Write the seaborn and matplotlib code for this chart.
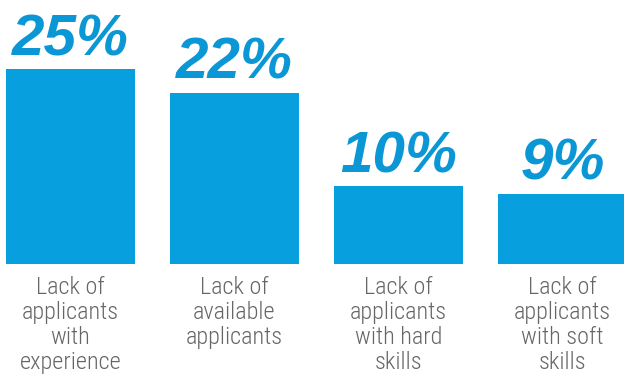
import matplotlib
matplotlib.use("Agg")
import matplotlib.pyplot as plt
from matplotlib import font_manager
import seaborn as sns
import pandas as pd

categories = ["Lack of\napplicants\nwith\nexperience",
              "Lack of\navailable\napplicants",
              "Lack of\napplicants\nwith hard\nskills",
              "Lack of\napplicants\nwith soft\nskills"]
values = [25, 22, 10, 9]
value_labels = ["25%", "22%", "10%", "9%"]

df = pd.DataFrame({"cat": categories, "val": values})

sns.set_style("white")
names = {f.name for f in font_manager.fontManager.ttflist}
narrow = "Roboto"
for cand in ["Roboto Condensed", "Liberation Sans Narrow", "Open Sans Condensed"]:
    if cand in names:
        narrow = cand
        break

fig = plt.figure(figsize=(6.24, 3.79), dpi=100)
ax = fig.add_axes([0, 115 / 379, 1, 264 / 379])
sns.barplot(data=df, x="cat", y="val", color="#089fdf", saturation=1,
            width=0.79, ax=ax)
for p in ax.patches:
    p.set_edgecolor("none")
ax.set_xlim(-0.43, 3.375)
ax.set_ylim(0, 33.93)
ax.set_xlabel("")
ax.set_ylabel("")
ax.set_yticks([])
for s in ax.spines.values():
    s.set_visible(False)
ax.tick_params(axis="x", length=0, pad=8.5)
for t in ax.get_xticklabels():
    t.set_fontfamily(narrow)
    t.set_fontweight("light")
    t.set_fontsize(17.5)
    t.set_color("#666666")
    t.set_linespacing(1.11)
    t.set_va("top")

ax.bar_label(ax.containers[0], labels=value_labels, padding=1.5,
             fontsize=42, fontweight="bold", fontstyle="italic",
             family="Liberation Sans", color="#0b97d5")

fig.savefig("out.png", dpi=100)
